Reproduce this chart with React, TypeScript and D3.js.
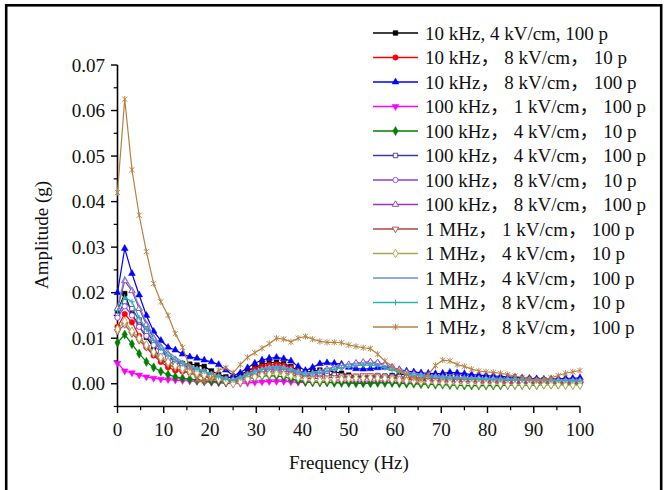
import React from 'react';
import * as d3 from 'd3';

const W = 667;
const H = 490;

// frequency sampling step (Hz) of the spectra
const STEP_HZ = 1.5625;

const xTickValues = [0, 10, 20, 30, 40, 50, 60, 70, 80, 90, 100];
const yTickValues = [0, 0.01, 0.02, 0.03, 0.04, 0.05, 0.06, 0.07];

// amplitudes in units of 0.001 g
const s10k4kV100 = [
  16, 19.8, 15.3, 12.6, 10.2, 8, 5.2, 4.6, 4.5, 4.4,
  4.3, 4.1, 3.8, 2.8, 2, 1.5, 1.3, 2, 2.8, 3.6,
  4.2, 4.6, 4.7, 4.4, 3.8, 2.8, 2.4, 2.8, 3, 2.9,
  2.6, 2.3, 1.9, 1.6, 1.5, 1.4, 1.5, 1.6, 1.8, 2,
  2.1, 2, 1.8, 1.6, 1.5, 1.4, 1.4, 1.3, 1.3, 1.2,
  1.2, 1.1, 1.1, 1, 1, 0.9, 0.9, 0.8, 0.8, 0.8,
  0.7, 0.7, 0.7, 0.7, 0.6,
];
const s10k8kV10 = [
  12.5, 15.3, 13.5, 10.5, 8, 6.2, 4.8, 3.6, 2.9, 2.7,
  2.5, 2.2, 1.8, 1.3, 0.9, 0.6, 0.5, 1.2, 2.2, 3.2,
  3.8, 4.1, 4.2, 4, 3.5, 2.7, 2, 2, 2.2, 2.1,
  1.9, 1.6, 1.4, 1.3, 1.3, 1.4, 1.5, 1.5, 1.4, 1.3,
  1.2, 1.1, 1, 0.9, 0.9, 0.8, 0.8, 0.8, 0.7, 0.7,
  0.6, 0.6, 0.6, 0.5, 0.5, 0.5, 0.4, 0.4, 0.4, 0.4,
  0.4, 0.3, 0.3, 0.3, 0.3,
];
const s10k8kV100 = [
  20, 29.7, 24.2, 19.5, 15, 11.5, 9.5, 8, 7.4, 6.5,
  5.9, 5.6, 5.2, 4.8, 4.2, 3, 1.8, 2.4, 3.5, 4.5,
  5.2, 5.6, 5.8, 5.5, 5, 3.8, 2.9, 3.6, 4.4, 4.6,
  4.5, 4.3, 3.6, 3.3, 3.2, 3.3, 3.5, 3.6, 3.4, 3.1,
  2.8, 2.6, 2.4, 2.3, 2.2, 2.3, 2.5, 2.4, 2.2, 2,
  1.9, 1.8, 1.7, 1.6, 1.5, 1.4, 1.3, 1.2, 1.1, 1,
  1, 1.1, 1.2, 1.2, 1.3,
];
const s100k1kV100 = [
  4.5, 2.8, 2.4, 1.9, 1.5, 1.2, 1, 0.9, 0.8, 0.7,
  0.6, 0.5, 0.4, 0.3, 0.2, 0.1, 0, 0.1, 0.2, 0.3,
  0.4, 0.5, 0.5, 0.5, 0.4, 0.3, 0.3, 0.3, 0.3, 0.3,
  0.3, 0.3, 0.2, 0.2, 0.2, 0.2, 0.3, 0.3, 0.3, 0.2,
  0.2, 0.2, 0.2, 0.2, 0.2, 0.2, 0.1, 0.1, 0.1, 0.1,
  0.1, 0.1, 0.1, 0.1, 0.1, 0.1, 0.1, 0.1, 0, 0,
  0, 0, 0, 0, 0,
];
const s100k4kV10 = [
  9, 10.8, 8.7, 6.6, 4.8, 3.6, 2.7, 2, 1.5, 1.2,
  1, 0.8, 0.6, 0.5, 0.4, 0.3, 0.2, 0.5, 1, 1.4,
  1.7, 1.8, 1.7, 1.5, 1.1, 0.7, 0.4, 0.3, 0.3, 0.3,
  0.2, 0.2, 0.2, 0.1, 0.1, 0.1, 0.2, 0.2, 0.2, 0.1,
  0, 0, -0.1, -0.1, -0.2, -0.2, -0.3, -0.3, -0.4, -0.4,
  -0.4, -0.4, -0.4, -0.4, -0.3, -0.3, -0.3, -0.3, -0.3, -0.2,
  -0.2, -0.2, -0.2, -0.2, -0.2,
];
const s100k4kV100 = [
  15, 18, 16.5, 14, 11.5, 9.2, 7.5, 6, 5, 4.2,
  3.6, 3, 2.6, 2.1, 1.6, 1.1, 0.8, 1.2, 2, 2.6,
  3, 3.3, 3.4, 3.3, 3, 2.5, 2, 1.9, 2, 2,
  1.9, 1.8, 1.6, 1.5, 1.5, 1.6, 1.8, 1.7, 1.6, 1.5,
  1.4, 1.3, 1.2, 1.2, 1.1, 1.1, 1, 1, 0.9, 0.9,
  0.9, 0.8, 0.8, 0.8, 0.7, 0.7, 0.7, 0.6, 0.6, 0.6,
  0.6, 0.5, 0.5, 0.5, 0.5,
];
const s100k8kV10 = [
  14.5, 17, 15, 12.5, 10.5, 8.5, 7, 5.8, 4.8, 4,
  3.3, 2.8, 2.3, 1.8, 1.3, 0.9, 0.7, 1, 1.6, 2.2,
  2.7, 3, 3.1, 3, 2.6, 2.1, 1.8, 1.9, 2.3, 2.8,
  3.3, 3.7, 4, 4.3, 4.5, 4.6, 4.5, 4.1, 3.5, 2.9,
  2.4, 2, 1.7, 1.5, 1.4, 1.3, 1.2, 1.1, 1.1, 1,
  1, 0.9, 0.9, 0.8, 0.8, 0.7, 0.7, 0.6, 0.6, 0.6,
  0.5, 0.5, 0.5, 0.5, 0.5,
];
const s100k8kV100 = [
  16.5, 22.6, 20.4, 16.5, 13, 10, 8, 6.5, 5.3, 4.4,
  3.7, 3.1, 2.6, 2, 1.5, 1, 0.8, 1.2, 1.9, 2.6,
  3.1, 3.5, 3.6, 3.5, 3.1, 2.6, 2.2, 2.3, 2.7, 3.1,
  3.5, 3.9, 4.2, 4.5, 4.7, 4.8, 4.6, 4.2, 3.6, 3,
  2.5, 2.1, 1.8, 1.6, 1.5, 1.4, 1.3, 1.2, 1.2, 1.1,
  1.1, 1, 1, 0.9, 0.9, 0.8, 0.8, 0.8, 0.7, 0.7,
  0.7, 0.7, 0.6, 0.6, 0.6,
];
const s1M1kV100 = [
  11.5, 13, 11, 9.5, 8, 6.5, 5.3, 4.3, 3.5, 2.8,
  2.3, 1.9, 1.5, 1.1, 0.8, 0.5, 0.3, 0.6, 1.1, 1.6,
  2, 2.3, 2.4, 2.3, 2, 1.6, 1.2, 1.1, 1.2, 1.3,
  1.4, 1.5, 1.6, 1.7, 1.8, 1.8, 1.7, 1.5, 1.3, 1.1,
  1, 0.9, 0.8, 0.7, 0.7, 0.6, 0.6, 0.5, 0.5, 0.5,
  0.4, 0.4, 0.4, 0.4, 0.3, 0.3, 0.3, 0.3, 0.3, 0.3,
  0.2, 0.2, 0.2, 0.2, 0.2,
];
const s1M4kV10 = [
  12, 13.7, 11.5, 10, 8.5, 7, 5.8, 4.8, 4, 3.4,
  2.9, 2.4, 2, 1.5, 1, 0.5, 0, 0.4, 1, 1.5,
  1.9, 2.1, 2.2, 2, 1.7, 1.3, 0.9, 0.7, 0.7, 0.8,
  0.9, 1, 1.1, 1.2, 1.2, 1.3, 1.2, 1.1, 0.9, 0.8,
  0.6, 0.5, 0.4, 0.3, 0.2, 0.1, 0.1, 0, 0, 0,
  -0.1, -0.1, -0.1, -0.1, -0.2, -0.2, -0.2, -0.2, -0.2, -0.2,
  -0.2, -0.2, -0.3, -0.3, -0.3,
];
const s1M4kV100 = [
  17, 23.5, 20.8, 17, 13.5, 10.5, 8.5, 7, 5.8, 4.8,
  4, 3.4, 2.8, 2.2, 1.6, 1.1, 0.9, 1.4, 2.1, 2.8,
  3.3, 3.7, 3.8, 3.7, 3.3, 2.8, 2.4, 2.5, 2.9, 3.3,
  3.7, 4, 4.3, 4.5, 4.6, 4.6, 4.4, 4, 3.5, 3,
  2.6, 2.3, 2, 1.8, 1.7, 1.6, 1.5, 1.4, 1.4, 1.3,
  1.2, 1.2, 1.1, 1.1, 1, 1, 0.9, 0.9, 0.9, 0.8,
  0.8, 0.8, 0.8, 0.8, 0.8,
];
const s1M8kV10 = [
  16, 19, 18, 14.5, 12, 9.5, 7.8, 6.3, 5.2, 4.4,
  3.7, 3.2, 2.7, 2.1, 1.5, 1, 0.8, 1.3, 2, 2.6,
  3.1, 3.4, 3.5, 3.4, 3, 2.5, 2.1, 2.2, 2.5, 2.8,
  3.2, 3.5, 3.8, 4, 4.1, 4.1, 3.9, 3.5, 3, 2.6,
  2.2, 1.9, 1.7, 1.5, 1.4, 1.3, 1.2, 1.2, 1.1, 1.1,
  1, 1, 0.9, 0.9, 0.9, 0.8, 0.8, 0.8, 0.7, 0.7,
  0.7, 0.7, 0.7, 0.6, 0.6,
];
const s1M8kV100 = [
  42, 62.5, 47, 37, 29, 22, 18, 15, 11, 8,
  3.5, 0.8, 0.5, 1.2, 3, 3.5, 2.4, 4.2, 5.8, 6.8,
  7.8, 8.8, 10, 9.8, 9.2, 10, 10.4, 9.8, 9.3, 9.1,
  9.1, 9, 8.5, 8.2, 7.9, 7.7, 6.5, 5, 3.8, 2.7,
  2, 1.2, 0.8, 2, 4, 5.2, 5, 4.2, 3.8, 3.2,
  2.8, 2.6, 2.5, 2.3, 2, 1.7, 1.4, 1.1, 0.8, 0.9,
  1.3, 1.8, 2.3, 2.6, 2.9,
];

const seriesValues = [
  s10k4kV100, s10k8kV10, s10k8kV100, s100k1kV100, s100k4kV10, s100k4kV100,
  s100k8kV10, s100k8kV100, s1M1kV100, s1M4kV10, s1M4kV100, s1M8kV10, s1M8kV100,
];
const seriesNames = [
  '10 kHz, 4 kV/cm, 100 p',
  '10 kHz， 8 kV/cm， 10 p',
  '10 kHz， 8 kV/cm， 100 p',
  '100 kHz， 1 kV/cm， 100 p',
  '100 kHz， 4 kV/cm， 10 p',
  '100 kHz， 4 kV/cm， 100 p',
  '100 kHz， 8 kV/cm， 10 p',
  '100 kHz， 8 kV/cm， 100 p',
  '1 MHz， 1 kV/cm， 100 p',
  '1 MHz， 4 kV/cm， 10 p',
  '1 MHz， 4 kV/cm， 100 p',
  '1 MHz， 8 kV/cm， 10 p',
  '1 MHz， 8 kV/cm， 100 p',
];
const seriesColors = [
  '#000000', '#ff0000', '#0000ff', '#ff00ff', '#008000', '#3c3ca0',
  '#8a3ce6', '#9b35b5', '#b04545', '#a8a850', '#6a8fd0', '#2ab5b0', '#b88040',
];
const seriesMarkers = [
  'square', 'circle', 'triangle', 'triangleDown', 'diamond', 'squareOpen',
  'circleOpen', 'triangleOpen', 'triangleDownOpen', 'diamondOpen', 'none', 'plus', 'asterisk',
];

const FONT = "'Liberation Serif', 'Times New Roman', 'Noto Sans CJK SC', serif";

const xScale = d3.scaleLinear().domain([0, 100]).range([117.5, 580]);
const yScale = d3.scaleLinear().domain([-0.005, 0.07]).range([406.5, 65]);

function Marker({ type, x, y, color }: { type: string; x: number; y: number; color: string }) {
  if (type === 'none') return null;
  const open = type.endsWith('Open');
  const base = type.replace('Open', '');
  if (base === 'plus') {
    const r = 2.8;
    return <path d={`M${x - r},${y}H${x + r}M${x},${y - r}V${y + r}`} stroke={color} strokeWidth={1} fill="none" />;
  }
  if (base === 'asterisk') {
    const r = 2.6;
    return (
      <path
        d={`M${x - r},${y - r}L${x + r},${y + r}M${x - r},${y + r}L${x + r},${y - r}M${x},${y - r - 0.6}V${y + r + 0.6}`}
        stroke={color}
        strokeWidth={0.9}
        fill="none"
      />
    );
  }
  let sym: d3.SymbolType = d3.symbolSquare;
  let size = 22;
  let rot = 0;
  if (base === 'circle') { sym = d3.symbolCircle; size = 24; }
  if (base === 'triangle') { sym = d3.symbolTriangle; size = 20; }
  if (base === 'triangleDown') { sym = d3.symbolTriangle; size = 20; rot = 180; }
  if (base === 'diamond') { sym = d3.symbolDiamond; size = 24; }
  if (open) size *= 0.9;
  const d = d3.symbol().type(sym).size(size)() as string;
  return (
    <path
      d={d}
      transform={`translate(${x},${y}) rotate(${rot})`}
      fill={open ? '#ffffff' : color}
      stroke={color}
      strokeWidth={open ? 0.9 : 0.5}
    />
  );
}

export default function App() {
  const line = d3
    .line<number>()
    .x((_, i) => xScale(i * STEP_HZ))
    .y((v) => yScale(v / 1000));

  const xMinor = d3.range(0, 101, 5).filter((v) => v % 10 !== 0);
  const yMinor = [-0.005, 0.005, 0.015, 0.025, 0.035, 0.045, 0.055, 0.065];

  const axisY0 = yScale(-0.005);
  const axisX0 = xScale(0);

  return (
    <svg
      width={W}
      height={H}
      style={{ position: 'absolute', left: 0, top: 0, background: '#ffffff' }}
      fontFamily={FONT}
    >
      <rect x={0} y={0} width={W} height={H} fill="#ffffff" />
      <rect x={6.2} y={5.3} width={655} height={495} fill="none" stroke="#000" strokeWidth={2.6} />

      {/* axes */}
      <line x1={axisX0} x2={axisX0} y1={yScale(0.07)} y2={axisY0} stroke="#000" strokeWidth={1.6} />
      <line x1={axisX0} x2={xScale(100)} y1={axisY0} y2={axisY0} stroke="#000" strokeWidth={1.6} />
      {xTickValues.map((t) => (
        <g key={'xt' + t}>
          <line x1={xScale(t)} x2={xScale(t)} y1={axisY0} y2={axisY0 + 6.5} stroke="#000" strokeWidth={1.4} />
          <text x={xScale(t)} y={435.5} fontSize={19} textAnchor="middle" fill="#111">
            {t}
          </text>
        </g>
      ))}
      {xMinor.map((t) => (
        <line key={'xm' + t} x1={xScale(t)} x2={xScale(t)} y1={axisY0} y2={axisY0 + 3.8} stroke="#000" strokeWidth={1.2} />
      ))}
      {yTickValues.map((t) => (
        <g key={'yt' + t}>
          <line x1={axisX0 - 6.5} x2={axisX0} y1={yScale(t)} y2={yScale(t)} stroke="#000" strokeWidth={1.4} />
          <text x={105} y={yScale(t) + 6.5} fontSize={19} textAnchor="end" fill="#111">
            {t.toFixed(2)}
          </text>
        </g>
      ))}
      {yMinor.map((t) => (
        <line key={'ym' + t} x1={axisX0 - 3.8} x2={axisX0} y1={yScale(t)} y2={yScale(t)} stroke="#000" strokeWidth={1.2} />
      ))}
      <text x={349} y={469} fontSize={19} textAnchor="middle" fill="#111">
        Frequency (Hz)
      </text>
      <text
        transform={`translate(48,${235}) rotate(-90)`}
        fontSize={19}
        textAnchor="middle"
        fill="#111"
      >
        Amplitude (g)
      </text>

      {/* series */}
      {seriesValues.map((vals, si) => (
        <g key={'s' + si}>
          <path d={line(vals) as string} fill="none" stroke={seriesColors[si]} strokeWidth={1.2} />
          {vals.map((v, i) => (
            <Marker key={i} type={seriesMarkers[si]} x={xScale(i * STEP_HZ)} y={yScale(v / 1000)} color={seriesColors[si]} />
          ))}
        </g>
      ))}

      {/* legend */}
      {seriesNames.map((name, si) => {
        const ly = 33 + si * 24.5;
        return (
          <g key={'lg' + si}>
            <line x1={373} x2={418} y1={ly} y2={ly} stroke={seriesColors[si]} strokeWidth={1.3} />
            <Marker type={seriesMarkers[si]} x={395.5} y={ly} color={seriesColors[si]} />
            <text x={425} y={ly + 6.5} fontSize={19} fill="#111">
              {name}
            </text>
          </g>
        );
      })}
    </svg>
  );
}
